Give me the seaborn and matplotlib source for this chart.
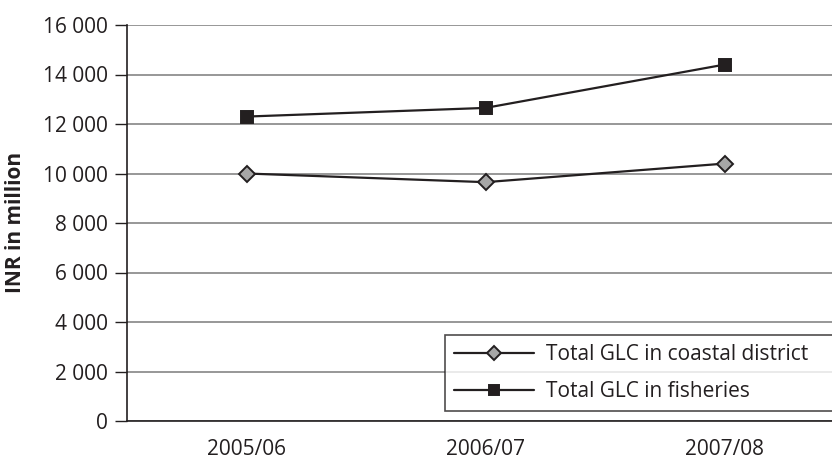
import pandas as pd
import matplotlib
matplotlib.use('Agg')
import matplotlib.pyplot as plt
import matplotlib.ticker as mticker
import seaborn as sns

years = ['2005/06', '2006/07', '2007/08']
coastal = [10000, 9650, 10400]
fisheries = [12300, 12650, 14400]
series_names = ['Total GLC in coastal district', 'Total GLC in fisheries']

df = pd.DataFrame({
    'pos': list(range(len(years))) * 2,
    'value': coastal + fisheries,
    'series': [series_names[0]] * len(years) + [series_names[1]] * len(years),
})

sns.set_style('white')
plt.rcParams['font.family'] = ['Open Sans', 'DejaVu Sans']
ink = '#231f20'
fs = 15

fig = plt.figure(figsize=(8.32, 4.62), dpi=100)
ax = fig.add_axes([127 / 832, 1 - 421 / 462, 717 / 832, 396 / 462])

styles = {
    series_names[0]: dict(marker='D', markersize=8.6, markerfacecolor='#a7a7a7'),
    series_names[1]: dict(marker='s', markersize=9, markerfacecolor=ink),
}
for name in series_names:
    sub = df[df['series'] == name]
    sns.lineplot(data=sub, x='pos', y='value', ax=ax, color=ink, linewidth=1.6,
                 markeredgecolor=ink, markeredgewidth=1.4, label=name, **styles[name])

ax.set_xlim(-0.5, 2.5)
ax.set_ylim(0, 16000)
ax.set_yticks(range(0, 16001, 2000))
ax.yaxis.set_major_formatter(mticker.FuncFormatter(lambda v, p: f'{int(v):,}'.replace(',', ' ')))
ax.grid(axis='y', color='#858585', linewidth=1.2)
ax.set_axisbelow(True)

ax.set_xticks(range(len(years)))
ax.set_xticklabels(years)
ax.set_xticks([-0.5, 0.5, 1.5, 2.5], minor=True)
ax.tick_params(axis='x', which='major', length=0, pad=13, labelsize=fs, labelcolor=ink)
ax.tick_params(axis='x', which='minor', length=9, width=1, color=ink, direction='out')
ax.tick_params(axis='y', length=9, width=1, color=ink, direction='out', pad=5,
               labelsize=fs, labelcolor=ink, left=True)

for side in ['top', 'right']:
    ax.spines[side].set_visible(False)
for side in ['left', 'bottom']:
    ax.spines[side].set_color(ink)
    ax.spines[side].set_linewidth(1.2)

ax.set_xlabel('')
ax.set_ylabel('INR in million', fontsize=fs, fontweight='bold', color=ink)
ax.yaxis.set_label_coords(26 / 832, 1 - 222 / 462, transform=fig.transFigure)

# legend box runs off the right edge like in the original
leg = ax.legend(loc='upper left', bbox_to_anchor=(445 / 832, 1 - 335 / 462, 420 / 832, 0),
                bbox_transform=fig.transFigure, mode='expand', frameon=True, fancybox=False,
                fontsize=fs, handlelength=3.8, handletextpad=0.6, labelspacing=0.75,
                borderpad=0.45, markerscale=0.8, borderaxespad=0)
leg.get_frame().set_edgecolor(ink)
leg.get_frame().set_linewidth(1.2)
for t in leg.get_texts():
    t.set_color(ink)

fig.savefig('out.png', dpi=100)
